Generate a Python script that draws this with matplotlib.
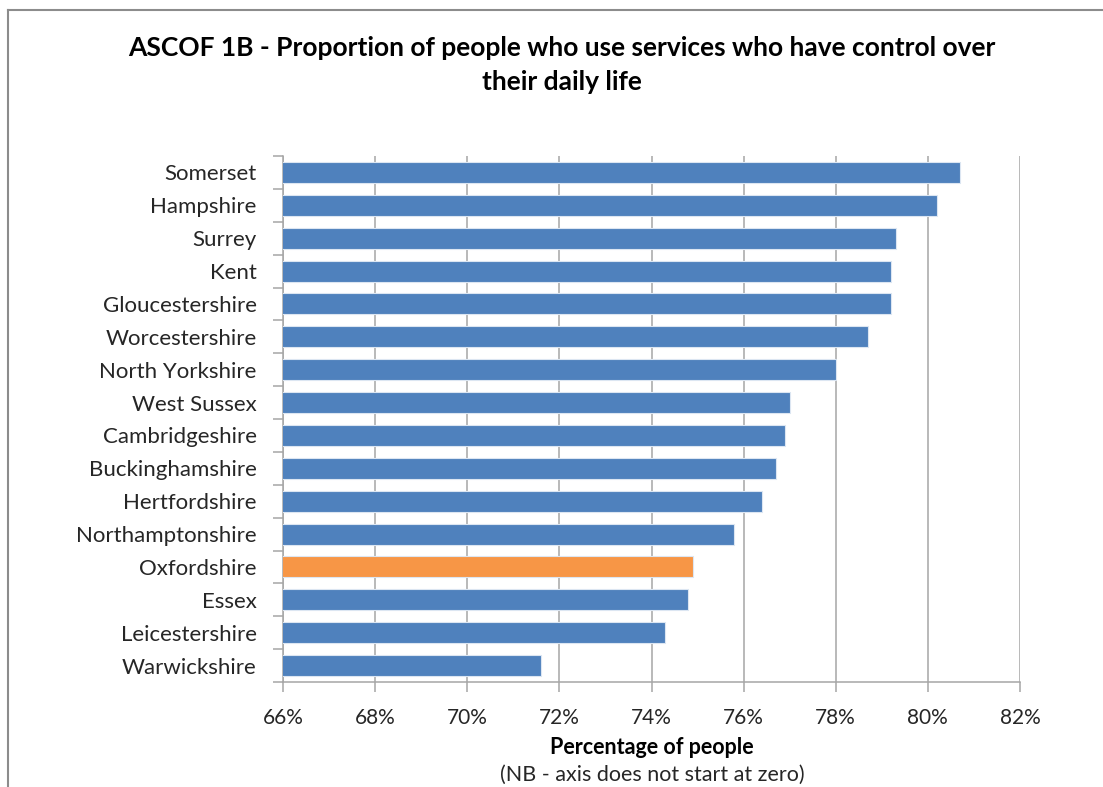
import matplotlib.pyplot as plt
from matplotlib.lines import Line2D
from matplotlib.ticker import FixedLocator, FuncFormatter

plt.rcParams['font.family'] = ['Lato', 'DejaVu Sans']

areas = ["Somerset", "Hampshire", "Surrey", "Kent", "Gloucestershire",
         "Worcestershire", "North Yorkshire", "West Sussex", "Cambridgeshire",
         "Buckinghamshire", "Hertfordshire", "Northamptonshire", "Oxfordshire",
         "Essex", "Leicestershire", "Warwickshire"]
values = [80.7, 80.2, 79.3, 79.2, 79.2, 78.7, 78.0, 77.0, 76.9, 76.7,
          76.4, 75.8, 74.9, 74.8, 74.3, 71.6]
highlight = "Oxfordshire"

blue = "#4F81BD"
orange = "#F79646"
grey = "#A6A6A6"

fig = plt.figure(figsize=(11.03, 7.87), dpi=100)
ax = fig.add_axes([283/1103, 1 - 682/787, (1020 - 283)/1103, (682 - 156)/787])

pos = list(range(len(areas)))
colors = [orange if a == highlight else blue for a in areas]
ax.barh(pos, values, height=0.64, color=colors, edgecolor="#DCE6F2", linewidth=0.8, zorder=3)

ax.set_xlim(66, 82)
ax.set_ylim(len(areas) - 0.5, -0.5)
ax.set_xticks(range(66, 83, 2))
ax.xaxis.set_major_formatter(FuncFormatter(lambda v, p: f"{v:.0f}%"))
ax.grid(axis="x", color=grey, linewidth=1.1, zorder=0)

ax.set_yticks(pos)
ax.set_yticklabels(areas)
ax.yaxis.set_minor_locator(FixedLocator([p - 0.5 for p in pos] + [len(areas) - 0.5]))
ax.tick_params(axis="y", which="major", length=0, pad=19, labelsize=16, labelcolor="#262626")
ax.tick_params(axis="y", which="minor", length=7, color=grey, width=1.1)
ax.tick_params(axis="x", which="major", length=7, color=grey, width=1.1, pad=12,
               labelsize=15, labelcolor="#262626")

for s in ["top", "right"]:
    ax.spines[s].set_visible(False)
for s in ["left", "bottom"]:
    ax.spines[s].set_color(grey)
    ax.spines[s].set_linewidth(1.1)

fig.text(562/1103, 1 - 48/787, "ASCOF 1B - Proportion of people who use services who have control over",
         ha="center", va="center", fontsize=19, fontweight="bold")
fig.text(562/1103, 1 - 82/787, "their daily life",
         ha="center", va="center", fontsize=19, fontweight="bold")

fig.text(652/1103, 1 - 747/787, "Percentage of people", ha="center", va="center",
         fontsize=15.5, fontweight="bold")
fig.text(652/1103, 1 - 775/787, "(NB - axis does not start at zero)", ha="center", va="center",
         fontsize=15.5, color="#262626")

# chart area border (left and top edges visible)
fig.add_artist(Line2D([8/1103, 8/1103], [0, 1 - 10/787], transform=fig.transFigure,
                      color="#8C8C8C", linewidth=1.5))
fig.add_artist(Line2D([8/1103, 1], [1 - 10/787, 1 - 10/787], transform=fig.transFigure,
                      color="#8C8C8C", linewidth=1.5))

fig.savefig("out.png", dpi=100)
